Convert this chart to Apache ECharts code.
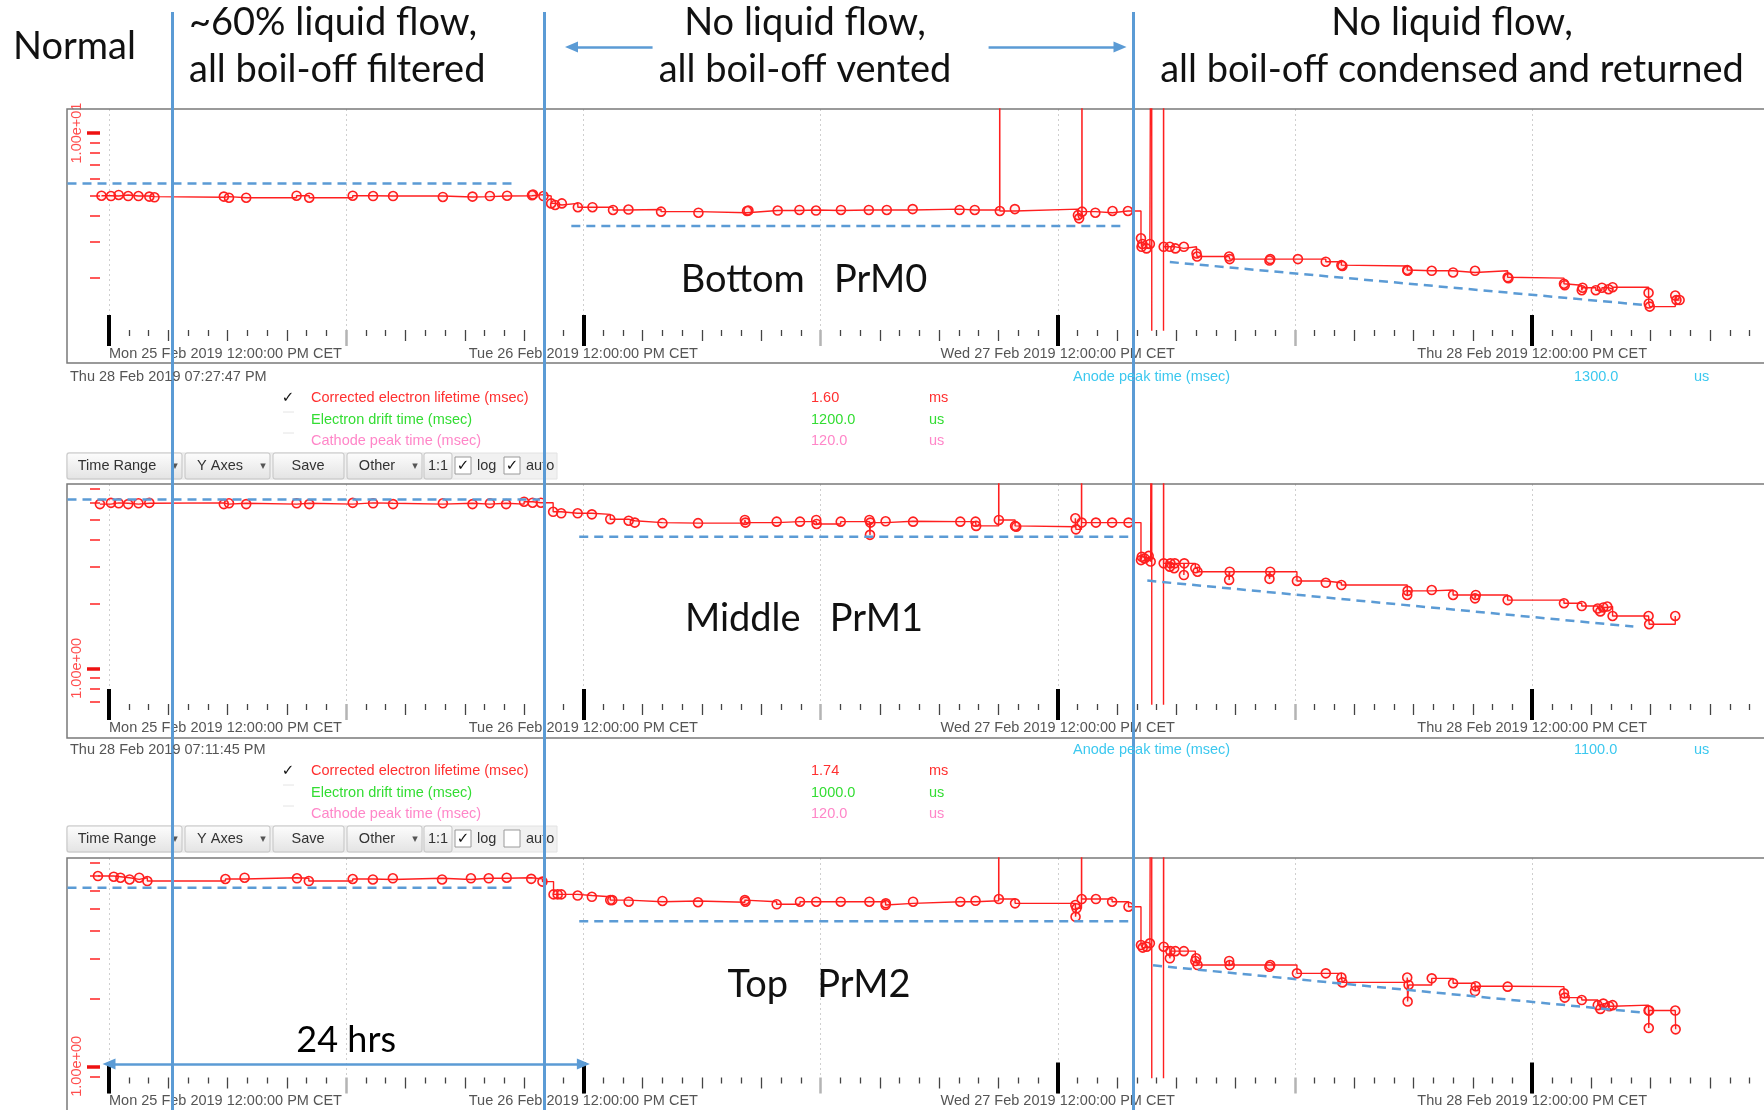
<!DOCTYPE html>
<html><head><meta charset="utf-8">
<script src="https://cdn.jsdelivr.net/npm/echarts@6/dist/echarts.min.js"></script>
<style>html,body{margin:0;padding:0;background:#fff;}#c{width:1764px;height:1110px;}</style>
</head><body><div id="c"></div>
<script>
// ================= DATA =================
// Time is given in hours since Mon 25 Feb 2019 00:00 CET.
const xTickLabels = ['Mon 25 Feb 2019 12:00:00 PM CET','Tue 26 Feb 2019 12:00:00 PM CET','Wed 27 Feb 2019 12:00:00 PM CET','Thu 28 Feb 2019 12:00:00 PM CET'];
const xTickLabelHours = [12, 36, 60, 84];
const phaseBoundaryHours = [15.19, 34.03, 63.80];
const headerArrowHours = [[39.5, 35.4], [56.5, 63.15]];
const headerLines = [
  ['Normal'],
  ['~60% liquid flow,', 'all boil-off filtered'],
  ['No liquid flow,', 'all boil-off vented'],
  ['No liquid flow,', 'all boil-off condensed and returned']
];
const panelNames = ['Bottom   PrM0', 'Middle   PrM1', 'Top   PrM2'];
const yDecadeValues = [10, 1, 1];
const yDecadeLabels = ['1.00e+01', '1.00e+00', '1.00e+00'];
const yMinorTicks = [[2,3,4,5,6,7,8,9], [0.7,0.8,0.9,2,3,4,5,6,7], [0.9,2,3,4,5,6,7,8]];
const yRanges = [[1.118, 13.06], [0.68, 7.33], [0.892, 8.43]];

// Corrected electron lifetime (msec) – [hour, value]
const prm0 = [[11.62,4.98],[12.10,4.96],[12.49,5.02],[12.97,4.96],[13.49,4.96],[14.04,4.93],[14.3,4.89],[17.81,4.93],[18.07,4.87],[18.94,4.87],[21.49,4.98],[22.13,4.87],[24.33,4.98],[25.36,4.96],[26.37,4.96],[28.89,4.91],[30.39,4.93],[31.27,4.96],[32.14,4.98],[33.40,5.00],[33.45,5.04],[33.98,4.96],
 [34.37,4.57],[34.57,4.49],[34.91,4.57],[35.72,4.38],[36.46,4.38],[37.50,4.25],[38.28,4.27],[39.93,4.17],[41.82,4.12],[44.28,4.20],[44.35,4.22],[45.83,4.22],[46.93,4.25],[47.77,4.22],[49.03,4.25],[50.44,4.25],[51.35,4.25],[52.66,4.29],[55.03,4.25],[55.80,4.25],[57.06,1000],[57.07,4.20],[57.83,4.29],[61.02,4.01],[61.08,3.87],[61.22,1000],[61.23,4.17],[61.90,4.12],[62.77,4.20],[63.55,4.20],
 [64.21,3.10],[64.24,2.82],[64.28,2.91],[64.49,2.77],[64.66,2.91],[64.75,1000],[64.76,0.01],[65.35,1000],[65.36,2.82],[65.67,2.82],[65.95,2.77],[66.38,2.82],[67.02,2.62],[67.05,2.53],[68.67,2.53],[68.70,2.46],[70.71,2.42],[70.75,2.46],[72.15,2.46],[73.56,2.39],[74.35,2.30],[74.40,2.28],[77.68,2.18],[77.70,2.16],[78.92,2.16],[80.00,2.12],[81.11,2.16],[82.76,2.01],[82.80,1.99],[85.61,1.87],[85.65,1.84],[86.51,1.74],[86.55,1.79],[87.22,1.74],[87.53,1.79],[87.86,1.76],[88.07,1.80],[89.89,1.69],[89.90,1.50],[89.95,1.45],[91.24,1.64],[91.30,1.56],[91.46,1.56]];
const prm1 = [[11.54,5.90],[12.10,5.98],[12.49,5.95],[12.97,5.90],[13.49,5.95],[14.04,5.98],[17.81,5.90],[18.07,5.95],[18.94,5.90],[21.49,5.95],[22.13,5.90],[24.33,5.98],[25.36,5.95],[26.37,5.90],[28.89,5.95],[30.39,5.90],[31.27,5.95],[32.09,5.90],[33.00,6.05],[33.43,5.99],[33.85,5.99],
 [34.47,5.43],[34.88,5.34],[35.71,5.34],[36.43,5.28],[37.36,5.01],[38.29,4.93],[38.60,4.83],[40.00,4.80],[41.80,4.80],[44.17,4.97],[44.20,4.83],[45.78,4.88],[46.96,4.88],[47.78,4.97],[47.80,4.76],[49.02,4.88],[50.47,4.97],[50.50,4.23],[50.52,4.83],[51.29,4.90],[52.68,4.88],[55.07,4.88],[55.84,4.88],[55.87,4.66],[57.01,1000],[57.02,4.97],[57.84,4.66],[57.90,4.62],[60.89,5.06],[60.92,4.49],[61.20,1000],[61.21,4.83],[61.93,4.83],[62.75,4.83],[63.58,4.83],
 [64.21,3.22],[64.25,3.34],[64.39,3.28],[64.60,3.37],[64.70,3.17],[64.75,1000],[64.76,0.01],[65.35,1000],[65.36,3.11],[65.67,3.00],[65.70,3.11],[65.89,2.95],[65.92,3.11],[66.38,2.74],[66.40,3.11],[66.96,2.95],[67.07,2.84],[68.67,2.60],[68.70,2.84],[70.71,2.63],[70.75,2.84],[72.10,2.57],[73.56,2.52],[74.35,2.46],[77.68,2.21],[77.70,2.31],[78.92,2.33],[80.00,2.21],[81.11,2.13],[81.15,2.21],[82.76,2.09],[85.61,2.02],[86.51,1.96],[87.32,1.91],[87.45,1.85],[87.60,1.93],[87.80,1.95],[88.07,1.76],[89.89,1.76],[89.92,1.61],[91.24,1.76]];
const prm2 = [[11.44,7.01],[12.24,6.96],[12.58,6.89],[13.04,6.77],[13.53,6.89],[13.94,6.66],[17.89,6.80],[18.86,6.89],[21.51,6.85],[22.11,6.66],[24.33,6.80],[25.35,6.77],[26.36,6.85],[28.85,6.77],[30.31,6.85],[31.21,6.85],[32.12,6.89],[33.36,6.81],[33.93,6.62],
 [34.49,5.81],[34.70,5.81],[34.88,5.81],[35.71,5.74],[36.43,5.67],[37.36,5.48],[37.46,5.48],[38.29,5.39],[40.00,5.43],[41.80,5.36],[44.17,5.48],[44.20,5.39],[45.78,5.25],[46.96,5.39],[47.78,5.39],[49.02,5.39],[50.47,5.39],[51.29,5.21],[51.30,5.30],[52.68,5.39],[55.07,5.39],[55.84,5.44],[57.01,1000],[57.02,5.54],[57.84,5.30],[60.89,5.21],[60.90,4.62],[60.95,5.04],[61.20,1000],[61.21,5.54],[61.93,5.54],[62.75,5.39],[63.58,5.12],
 [64.21,3.46],[64.30,3.37],[64.50,3.40],[64.66,3.52],[64.75,1000],[64.76,0.01],[65.35,1000],[65.36,3.40],[65.67,3.02],[65.70,3.25],[65.95,3.25],[66.38,3.25],[66.96,2.94],[67.00,3.02],[67.07,2.82],[68.67,2.94],[68.70,2.82],[70.71,2.77],[70.75,2.82],[72.10,2.59],[73.56,2.59],[74.35,2.48],[74.40,2.36],[77.68,2.48],[77.70,1.94],[77.75,2.30],[78.92,2.46],[80.00,2.34],[81.11,2.16],[81.15,2.27],[82.76,2.26],[85.61,2.11],[85.65,2.02],[86.51,1.97],[87.32,1.87],[87.45,1.80],[87.60,1.90],[87.90,1.85],[88.07,1.87],[89.89,1.77],[89.90,1.48],[89.92,1.77],[91.24,1.77],[91.26,1.46]];
const prmData = [prm0, prm1, prm2];

// Dashed trend lines (segments of [hour, value])
const trend0 = [[[9.9,5.71],[32.55,5.71]], [[35.39,3.55],[63.28,3.55]], [[65.67,2.38],[89.69,1.476]]];
const trend1 = [[[9.9,6.20],[33.80,6.20]], [[35.79,4.15],[63.68,4.15]], [[64.53,2.58],[89.12,1.57]]];
const trend2 = [[[9.9,6.22],[32.55,6.22]], [[35.79,4.41],[63.68,4.41]], [[64.82,2.81],[89.69,1.73]]];
const trends = [trend0, trend1, trend2];
const span24Hours = [12, 36];
const span24Value = 1.024;
const span24Label = '24 hrs';

// Readout blocks
const infoTimestamps = ['Thu 28 Feb 2019 07:27:47 PM', 'Thu 28 Feb 2019 07:11:45 PM'];
const legendNames = ['Corrected electron lifetime (msec)', 'Electron drift time (msec)', 'Cathode peak time (msec)'];
const legendValues = [['1.60','1200.0','120.0'], ['1.74','1000.0','120.0']];
const legendUnits = ['ms', 'us', 'us'];
const anodeName = 'Anode peak time (msec)';
const anodeValues = ['1300.0', '1100.0'];
const anodeUnit = 'us';
const logChecked = [true, false];

// ================= LAYOUT / STYLE =================
const W = 1764, H = 1110;
const xMin = 9.875, xMax = 95.73, gridLeft = 67;
const panels = [
  {top: 109, plotBottom: 330, frameBottom: 363, label: [804, 280]},
  {top: 484, plotBottom: 704, frameBottom: 738, label: [804, 619]},
  {top: 858, plotBottom: 1077.5, frameBottom: 1114, label: [819, 985]}
];
const infoBase = [377, 750];
const RED = '#ff1f1f', BLUE = '#5b9bd5';
const UI_FONT = 'Liberation Sans, Arial, sans-serif';
const UI = '14.5px ' + UI_FONT;
const BIG_FONT = '38px Lato, Carlito, sans-serif';
const legendColors = ['#ff3030', '#33dd33', '#ff86c8'];
const anodeColor = '#3cc8ef';

const hourTicks = [], threeHourTicks = [], halfDayTicks = [];
for (let h = xTickLabelHours[0]; h <= Math.floor(xMax); h++) {
  if (h % 12 === 0) halfDayTicks.push(h);
  else if (h % 3 === 0) threeHourTicks.push(h);
  else hourTicks.push(h);
}

const grid = [], xAxis = [], yAxis = [], series = [], graphic = [];

panels.forEach((p, i) => {
  grid.push({left: gridLeft, right: 0, top: p.top, bottom: H - p.plotBottom, outerBoundsMode: 'none', containLabel: false});
  const xc = {gridIndex: i, type: 'value', min: xMin, max: xMax, position: 'bottom',
    axisLine: {show: false, onZero: false}, splitLine: {show: false}, axisLabel: {show: false}};
  xAxis.push(Object.assign({}, xc, {
    axisTick: {length: 6, lineStyle: {color: '#444', width: 1.3}, customValues: hourTicks},
    axisLabel: {show: true, customValues: xTickLabelHours, alignMinLabel: 'left',
      formatter: v => xTickLabels[xTickLabelHours.indexOf(Math.round(v))] || '',
      margin: 16, color: '#555', fontSize: 14.5, fontFamily: UI_FONT}
  }));
  xAxis.push(Object.assign({}, xc, {axisTick: {length: 11, lineStyle: {color: '#444', width: 1.3}, customValues: threeHourTicks}}));
  xAxis.push(Object.assign({}, xc, {
    axisTick: {length: 16, lineStyle: {color: '#b4b4b4', width: 2.5}, customValues: halfDayTicks},
    splitLine: {show: true, lineStyle: {color: '#cfcfcf', width: 1, type: [2, 3]}}
  }));
  xAxis.push(Object.assign({}, xc, {offset: -15,
    axisTick: {length: 31, lineStyle: {color: '#000', width: 4}, customValues: xTickLabelHours}}));

  const yc = {gridIndex: i, type: 'log', logBase: 10, min: yRanges[i][0], max: yRanges[i][1], position: 'left',
    axisLine: {show: false, onZero: false}, splitLine: {show: false}, axisLabel: {show: false}};
  yAxis.push(Object.assign({}, yc, {offset: -23,
    axisTick: {show: true, inside: true, length: 10, lineStyle: {color: '#ff3b3b', width: 1.7}, customValues: yMinorTicks[i]}}));
  yAxis.push(Object.assign({}, yc, {offset: -20,
    axisTick: {show: true, inside: true, length: 13, lineStyle: {color: '#ee1111', width: 3.5}, customValues: [yDecadeValues[i]]},
    axisLabel: {show: true, customValues: [yDecadeValues[i]], formatter: () => yDecadeLabels[i], rotate: 90,
      margin: 3, color: '#ff4d4d', fontSize: 14.5, fontFamily: UI_FONT}}));

  series.push({
    type: 'line', xAxisIndex: 4 * i, yAxisIndex: 2 * i, step: 'end', clip: true, z: 3,
    showAllSymbol: true, symbol: 'circle', symbolSize: 9,
    itemStyle: {color: 'rgba(255,40,40,0.06)', borderColor: RED, borderWidth: 1.6},
    lineStyle: {color: RED, width: 1.4},
    emphasis: {disabled: true}, silent: true, animation: false,
    data: prmData[i].map(([h, v]) => (v >= 100 || v <= 0.05) ? {value: [h, v], symbol: 'none'} : [h, v])
  });
  const tdata = [];
  trends[i].forEach(seg => { seg.forEach(pt => tdata.push(pt)); tdata.push([seg[seg.length - 1][0] + 0.01, '-']); });
  const ts = {
    type: 'line', xAxisIndex: 4 * i, yAxisIndex: 2 * i, symbol: 'none', connectNulls: false, z: 4,
    lineStyle: {color: BLUE, width: 2.5, type: [9, 6]}, silent: true, animation: false, data: tdata
  };
  if (i === 2) {
    ts.markLine = {
      silent: true, animation: false, symbol: ['triangle', 'triangle'], symbolSize: [11, 13],
      lineStyle: {color: BLUE, width: 2.5, type: 'solid'},
      label: {show: true, formatter: span24Label, position: 'insideMiddleTop', distance: 6,
        color: '#000', fontSize: 36, fontFamily: 'Lato, Carlito, sans-serif'},
      data: [[{coord: [span24Hours[0], span24Value]}, {coord: [span24Hours[1], span24Value]}]]
    };
  }
  series.push(ts);

  // frame
  graphic.push({type: 'rect', z: 1, silent: true,
    shape: {x: gridLeft, y: p.top, width: W - gridLeft + 20, height: p.frameBottom - p.top},
    style: {fill: 'none', stroke: '#7a7a7a', lineWidth: 1.5}});
  graphic.push({type: 'text', z: 6, silent: true,
    style: {x: p.label[0], y: p.label[1], text: panelNames[i], font: BIG_FONT, fill: '#111',
      textAlign: 'center', textVerticalAlign: 'middle', align: 'center', verticalAlign: 'middle'}});
});

// overlay grid for the phase boundaries and header arrows
grid.push({left: gridLeft, right: 0, top: 12, bottom: 0, outerBoundsMode: 'none'});
xAxis.push({gridIndex: 3, type: 'value', min: xMin, max: xMax, show: false});
yAxis.push({gridIndex: 3, type: 'value', min: 0, max: H - 12, inverse: true, show: false});
series.push({
  type: 'line', xAxisIndex: 12, yAxisIndex: 6, data: [], z: 10, silent: true, animation: false,
  markLine: {silent: true, animation: false, symbol: 'none', label: {show: false},
    lineStyle: {color: BLUE, width: 3, type: 'solid'},
    data: phaseBoundaryHours.map(h => ({xAxis: h}))}
});
series.push({
  type: 'line', xAxisIndex: 12, yAxisIndex: 6, data: [], z: 10, silent: true, animation: false,
  markLine: {silent: true, animation: false, symbol: ['none', 'triangle'], symbolSize: [11, 13], label: {show: false},
    lineStyle: {color: BLUE, width: 2.5, type: 'solid'},
    data: headerArrowHours.map(([a, b]) => [{coord: [a, 35]}, {coord: [b, 35]}])}
});

// header texts
function txt(x, y, text, font, fill, align, z) {
  return {type: 'text', z: z || 6, silent: true,
    style: {x, y, text, font, fill, textAlign: align || 'left', align: align || 'left',
      textVerticalAlign: 'middle', verticalAlign: 'middle'}};
}
graphic.push(txt(13, 47, headerLines[0][0], BIG_FONT, '#111', 'left'));
graphic.push(txt(189, 23, headerLines[1][0], BIG_FONT, '#111', 'left'));
graphic.push(txt(189, 70, headerLines[1][1], BIG_FONT, '#111', 'left'));
graphic.push(txt(805, 23, headerLines[2][0], BIG_FONT, '#111', 'center'));
graphic.push(txt(805, 70, headerLines[2][1], BIG_FONT, '#111', 'center'));
graphic.push(txt(1452, 23, headerLines[3][0], BIG_FONT, '#111', 'center'));
graphic.push(txt(1452, 70, headerLines[3][1], BIG_FONT, '#111', 'center'));

// readout blocks + toolbars
const rowDy = [21, 43, 64];
infoBase.forEach((b, k) => {
  graphic.push(txt(70, b, infoTimestamps[k], UI, '#555'));
  graphic.push(txt(1073, b, anodeName, UI, anodeColor));
  graphic.push(txt(1574, b, anodeValues[k], UI, anodeColor));
  graphic.push(txt(1694, b, anodeUnit, UI, anodeColor));
  legendNames.forEach((n, r) => {
    const y = b + rowDy[r];
    if (r === 0) graphic.push(txt(288, y, '\u2713', 'bold 15px DejaVu Sans', '#111', 'center'));
    else graphic.push({type: 'line', z: 5, silent: true, shape: {x1: 283, y1: y - 8, x2: 294, y2: y - 8}, style: {stroke: '#e4e4e4', lineWidth: 1}});
    graphic.push(txt(311, y, n, UI, legendColors[r]));
    graphic.push(txt(811, y, legendValues[k][r], UI, legendColors[r]));
    graphic.push(txt(929, y, legendUnits[r], UI, legendColors[r]));
  });
  const ty = b + 76, th = 26;
  graphic.push({type: 'rect', z: 2, silent: true, shape: {x: 67, y: ty, width: 490, height: th},
    style: {fill: '#f1f1f1', stroke: '#e2e2e2', lineWidth: 1}});
  const grad = {type: 'linear', x: 0, y: 0, x2: 0, y2: 1, colorStops: [{offset: 0, color: '#fdfdfd'}, {offset: 1, color: '#e3e3e3'}]};
  const buttons = [[67, 182, 'Time Range', 117, true], [185, 270, 'Y Axes', 220, true], [273, 344, 'Save', 308, false], [347, 422, 'Other', 377, true], [424, 452, '1:1', 438, false]];
  buttons.forEach(([x0, x1, label, cx, arrow]) => {
    graphic.push({type: 'rect', z: 3, silent: true, shape: {x: x0, y: ty, width: x1 - x0, height: th, r: 2},
      style: {fill: grad, stroke: '#c3c3c3', lineWidth: 1}});
    graphic.push(txt(cx, ty + th / 2, label, UI, '#333', 'center', 4));
    if (arrow) graphic.push(txt(x1 - 7, ty + th / 2, '\u25BE', '11px DejaVu Sans', '#555', 'center', 4));
  });
  [[455, true], [504, logChecked[k]]].forEach(([x0, checked]) => {
    graphic.push({type: 'rect', z: 3, silent: true, shape: {x: x0, y: ty + 4, width: 16, height: 17},
      style: {fill: '#fff', stroke: '#9a9a9a', lineWidth: 1}});
    if (checked) graphic.push(txt(x0 + 8, ty + 13, '\u2713', 'bold 15px DejaVu Sans', '#111', 'center', 4));
  });
  graphic.push(txt(477, ty + th / 2, 'log', UI, '#333', 'left', 4));
  graphic.push(txt(526, ty + th / 2, 'auto', UI, '#333', 'left', 4));
});

const chart = echarts.init(document.getElementById('c'), null, {renderer: 'canvas', width: W, height: H});
chart.setOption({
  animation: false,
  backgroundColor: '#ffffff',
  textStyle: {fontFamily: UI_FONT},
  grid, xAxis, yAxis, series,
  graphic: {elements: graphic}
});
</script></body></html>
